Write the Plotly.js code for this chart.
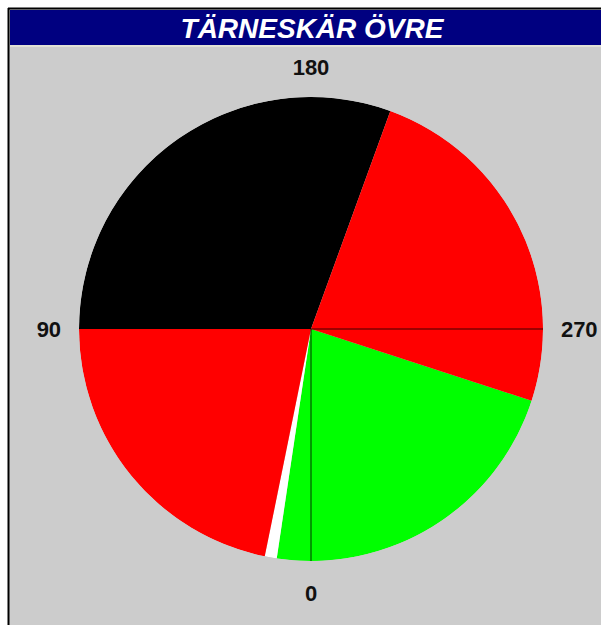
<!DOCTYPE html>
<html>
<head>
<meta charset="utf-8">
<script src="https://cdn.plot.ly/plotly-3.0.1.min.js"></script>
<style>html,body{margin:0;padding:0;background:#fff;}#chart{width:601px;height:625px;}</style>
</head>
<body>
<div id="chart"></div>
<script>
// Sector data (degrees: 0 = bottom, increasing clockwise)
const chartTitle = "TÄRNESKÄR ÖVRE";
const sectorNames = ["Grön", "Vit", "Röd", "Svart", "Röd"];
const sectorFrom = [-72, 8.5, 11.5, 90, 200];
const sectorTo = [8.5, 11.5, 90, 200, 288];
const sectorColors = ["#00ff00", "#ffffff", "#ff0000", "#000000", "#ff0000"];
const lineBearings = [0, 270];
const tickValues = [0, 90, 180, 270];
const tickLabels = ["0", "90", "180", "270"];

const W = 601, H = 625;
const thetaCenters = sectorFrom.map((f, i) => (f + sectorTo[i]) / 2);
const widths = sectorFrom.map((f, i) => sectorTo[i] - f);

const bars = {
  type: "barpolar",
  r: sectorFrom.map(() => 1),
  theta: thetaCenters,
  width: widths,
  text: sectorNames,
  marker: { color: sectorColors, line: { width: 0 } },
  hoverinfo: "text",
  showlegend: false
};

const lineR = [], lineTheta = [];
lineBearings.forEach(b => { lineR.push(0, 1, null); lineTheta.push(b, b, null); });
const lines = {
  type: "scatterpolar",
  mode: "lines",
  r: lineR,
  theta: lineTheta,
  line: { color: "rgba(0,0,0,0.5)", width: 1.6 },
  hoverinfo: "skip",
  showlegend: false
};

const cx = 311, cy = 329, R = 232;
const layout = {
  width: W, height: H,
  margin: { l: 0, r: 0, t: 0, b: 0 },
  paper_bgcolor: "#ffffff",
  showlegend: false,
  title: {
    text: chartTitle,
    x: 312 / W, xanchor: "center",
    y: 1 - 28 / H, yanchor: "middle", yref: "container",
    font: { family: "Liberation Sans, Arial, sans-serif", size: 28, color: "#ffffff", weight: "bold", style: "italic" }
  },
  polar: {
    domain: { x: [(cx - R) / W, (cx + R) / W], y: [(H - cy - R) / H, (H - cy + R) / H] },
    bgcolor: "rgba(0,0,0,0)",
    bargap: 0,
    radialaxis: { visible: false, range: [0, 1] },
    angularaxis: {
      rotation: 270,
      direction: "clockwise",
      tickmode: "array",
      tickvals: tickValues,
      ticktext: tickLabels,
      ticks: "outside",
      ticklen: 13,
      tickcolor: "rgba(0,0,0,0)",
      showline: false,
      showgrid: false,
      tickfont: { family: "Liberation Sans, Arial, sans-serif", size: 22, color: "#111111", weight: "bold" }
    }
  },
  shapes: [
    { type: "rect", xref: "paper", yref: "paper", x0: 9 / W, x1: 1, y0: 0, y1: 1 - 9 / H, fillcolor: "#cccccc", line: { width: 0 }, layer: "below" },
    { type: "rect", xref: "paper", yref: "paper", x0: 10 / W, x1: 1, y0: 1 - 45 / H, y1: 1 - 10 / H, fillcolor: "#000080", line: { width: 0 }, layer: "below" },
    { type: "line", xref: "paper", yref: "paper", x0: 10 / W, x1: 1, y0: 1 - 46 / H, y1: 1 - 46 / H, line: { color: "#e8e8d8", width: 1.5 }, layer: "below" },
    { type: "line", xref: "paper", yref: "paper", x0: 8.5 / W, x1: 8.5 / W, y0: 0, y1: 1 - 8 / H, line: { color: "#000000", width: 2 }, layer: "below" },
    { type: "line", xref: "paper", yref: "paper", x0: 8 / W, x1: 1, y0: 1 - 8.5 / H, y1: 1 - 8.5 / H, line: { color: "#000000", width: 2 }, layer: "below" }
  ]
};

Plotly.newPlot("chart", [bars, lines], layout, { displayModeBar: false, staticPlot: true });
</script>
</body>
</html>
